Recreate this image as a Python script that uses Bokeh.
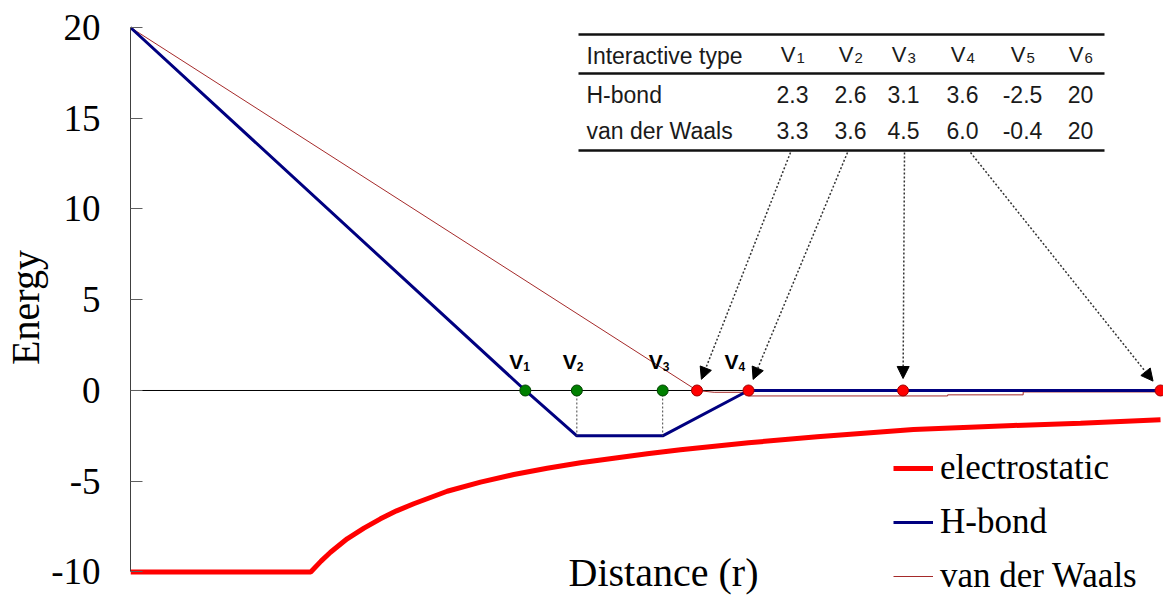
import math

from bokeh.plotting import figure
from bokeh.models import (Range1d, FixedTicker, Label, Arrow, NormalHead, Span,
                          Legend, LegendItem, CustomJSTickFormatter)
from bokeh.core.properties import value
from bokeh.embed import file_html
from bokeh.resources import INLINE

# ---------------------------------------------------------------- data
# Parameter table (distances V1..V4, well depth V5, repulsion V6)
interaction_types = ["H-bond", "van der Waals"]
param_subscripts = ["1", "2", "3", "4", "5", "6"]
hbond_params = [2.3, 2.6, 3.1, 3.6, -2.5, 20]
vdw_params = [3.3, 3.6, 4.5, 6.0, -0.4, 20]

# H-bond piecewise potential
hbond_r = [0.0, 2.3, 2.6, 3.1, 3.6, 6.0]
hbond_e = [20.0, 0.0, -2.5, -2.5, 0.0, 0.0]

# van der Waals piecewise potential
vdw_r = [0.0, 3.3, 3.4, 3.6, 3.6, 4.76, 4.76, 5.2, 5.2, 6.0]
vdw_e = [20.0, 0.0, -0.1, -0.1, -0.3, -0.3, -0.24, -0.24, -0.08, -0.08]

# electrostatic potential (capped at short range)
elec_r = [0.0, 1.05, 1.11, 1.165, 1.262, 1.36, 1.456, 1.55, 1.650, 1.845,
          2.039, 2.233, 2.427, 2.621, 2.815, 3.010, 3.204, 3.6, 4.0, 4.561,
          5.143, 5.534, 6.0]
elec_e = [-10.0, -10.0, -9.4, -8.91, -8.17, -7.58, -7.07, -6.63, -6.24, -5.55,
          -5.05, -4.63, -4.28, -3.98, -3.73, -3.49, -3.27, -2.88, -2.55, -2.15,
          -1.93, -1.80, -1.61]

energy_ticks = [-10, -5, 0, 5, 10, 15, 20]

# ---------------------------------------------------------------- layout helpers
W, H = 1163, 599
PX_L, PX_T = 130, 15
PX_PER_X = 171.67
PX_PER_Y = 18.15
X_END = (W - PX_L) / PX_PER_X
Y_TOP = 20.661
Y_BOT = Y_TOP - (H - PX_T) / PX_PER_Y


def to_x(px):
    return (px - PX_L) / PX_PER_X


def to_y(py):
    return Y_TOP - (py - PX_T) / PX_PER_Y


def from_x(x):
    return PX_L + x * PX_PER_X


def from_y(y):
    return PX_T + (Y_TOP - y) * PX_PER_Y


def fmt(v):
    return str(int(v)) if float(v).is_integer() and abs(v) >= 10 else f"{v:.1f}"


SERIF = value("Liberation Serif")
SANS = value("Liberation Sans")

p = figure(width=W, height=H, output_backend="svg", toolbar_location=None,
           x_range=Range1d(0, X_END), y_range=Range1d(Y_BOT, Y_TOP),
           min_border_left=PX_L, min_border_right=0, min_border_top=PX_T,
           min_border_bottom=0, background_fill_color="white",
           border_fill_color="white", outline_line_color=None)

p.xaxis.visible = False
p.xgrid.grid_line_color = None
p.ygrid.grid_line_color = None

ax = p.yaxis[0]
ax.ticker = FixedTicker(ticks=energy_ticks)
ax.formatter = CustomJSTickFormatter(code="return tick.toString();")
ax.bounds = (min(energy_ticks), max(energy_ticks))
ax.axis_line_color = "#404040"
ax.axis_line_width = 1
ax.major_tick_in = 12
ax.major_tick_out = 0
ax.major_tick_line_color = "#606060"
ax.minor_tick_line_color = None
ax.major_label_text_font = "Liberation Serif"
ax.major_label_text_font_size = "37px"
ax.major_label_text_color = "black"
ax.major_label_standoff = 30
ax.axis_label = "Energy"
ax.axis_label_text_font = "Liberation Serif"
ax.axis_label_text_font_size = "40px"
ax.axis_label_text_font_style = "normal"
ax.axis_label_text_color = "black"
ax.axis_label_standoff = 0

# zero line
p.add_layout(Span(location=0, dimension="width", line_color="black",
                  line_width=1, level="underlay"))

# curves
r_elec = p.line(elec_r, elec_e, line_color="#FF0000", line_width=5)
r_vdw = p.line(vdw_r, vdw_e, line_color="#A52A2A", line_width=1)
r_hb = p.line(hbond_r, hbond_e, line_color="#000080", line_width=3)

# drop lines from V2, V3 to the H-bond well
well = hbond_params[4]
p.segment(x0=hbond_params[1:3], y0=[0, 0], x1=hbond_params[1:3], y1=[well, well],
          line_color="#444444", line_width=1, line_dash="2 2")

# marker dots
p.scatter(hbond_params[0:3], [0, 0, 0], size=11, fill_color="#008000",
          line_color="#004000", line_width=1)
p.scatter(vdw_params[0:4], [0, 0, 0, 0], size=11, fill_color="#FF0000",
          line_color="#A00000", line_width=1)

# text drawn with an alphabetic baseline sits this many px low
BL = 8

# V labels over the H-bond breakpoints
v_label_r = hbond_params[0:4]
v_label_dx = [-2, 0, 0, -10]   # pixel nudge for each label
vx = [to_x(from_x(r) + d) for r, d in zip(v_label_r, v_label_dx)]
p.text(vx, [to_y(368.5 - BL)] * 4, text=["V"] * 4, text_font=SANS,
       text_font_style="bold", text_font_size="21px", text_align="right",
       text_baseline="alphabetic", text_color="black")
p.text(vx, [to_y(373.5 - BL)] * 4,
       text=param_subscripts[0:4], text_font=SANS, text_font_style="bold",
       text_font_size="12px", text_align="left", text_baseline="alphabetic",
       text_color="black")

# ---------------------------------------------------------------- table
col_px = [792, 850, 903, 962, 1022, 1080]
tab_left, tab_right = 578, 1104
rule_py = [34, 73, 150]
p.segment(x0=[to_x(tab_left)] * 3, y0=[to_y(y) for y in rule_py],
          x1=[to_x(tab_right)] * 3, y1=[to_y(y) for y in rule_py],
          line_color="#111111", line_width=2.5)

TXT = "#1a1a1a"
p.text([to_x(586)], [to_y(63 - BL)], text=["Interactive type"], text_font=SANS,
       text_font_size="23px", text_align="left", text_baseline="alphabetic",
       text_color=TXT)
p.text([to_x(c + 3) for c in col_px], [to_y(62 - BL)] * 6, text=["V"] * 6,
       text_font=SANS, text_font_size="22px", text_align="right",
       text_baseline="alphabetic", text_color=TXT)
p.text([to_x(c + 4) for c in col_px], [to_y(65 - BL)] * 6, text=param_subscripts,
       text_font=SANS, text_font_size="15px", text_align="left",
       text_baseline="alphabetic", text_color=TXT)

row_base = [102, 138]
for name, params, yb in zip(interaction_types, [hbond_params, vdw_params], row_base):
    p.text([to_x(586)], [to_y(yb - BL)], text=[name], text_font=SANS,
           text_font_size="23px", text_align="left", text_baseline="alphabetic",
           text_color=TXT)
    p.text([to_x(c) for c in col_px], [to_y(yb - BL)] * 6,
           text=[fmt(v) for v in params], text_font=SANS, text_font_size="23px",
           text_align="center", text_baseline="alphabetic", text_color=TXT)

# arrows from the van der Waals distances to their points on the axis
arrow_start_px = [790, 847, 904, 970]
for sx, r in zip(arrow_start_px, vdw_params[0:4]):
    sy = 152
    ex, ey = from_x(r), from_y(0)
    L = math.hypot(ex - sx, ey - sy)
    tx, ty = ex - 12 * (ex - sx) / L, ey - 12 * (ey - sy) / L
    p.add_layout(Arrow(x_start=to_x(sx), y_start=to_y(sy),
                       x_end=to_x(tx), y_end=to_y(ty),
                       line_color="#333333", line_width=1.5, line_dash="2 2",
                       end=NormalHead(size=12, fill_color="black",
                                      line_color="black", line_width=1)))

# x axis title inside the frame
p.add_layout(Label(x=to_x(663), y=to_y(572), text="Distance (r)",
                   text_font="Liberation Serif", text_font_size="40px",
                   text_align="center", text_baseline="middle",
                   text_color="black"))

# ---------------------------------------------------------------- legend
legend = Legend(items=[LegendItem(label="electrostatic", renderers=[r_elec]),
                       LegendItem(label="H-bond", renderers=[r_hb]),
                       LegendItem(label="van der Waals", renderers=[r_vdw])],
                location=(763, 3), orientation="vertical",
                border_line_color=None, background_fill_alpha=0,
                label_text_font="Liberation Serif", label_text_font_size="35px",
                label_text_color="black", glyph_width=40, glyph_height=40,
                label_height=40, spacing=14, padding=0, margin=0,
                label_standoff=7)
p.add_layout(legend)

open("out.html", "w").write(file_html(p, INLINE))
